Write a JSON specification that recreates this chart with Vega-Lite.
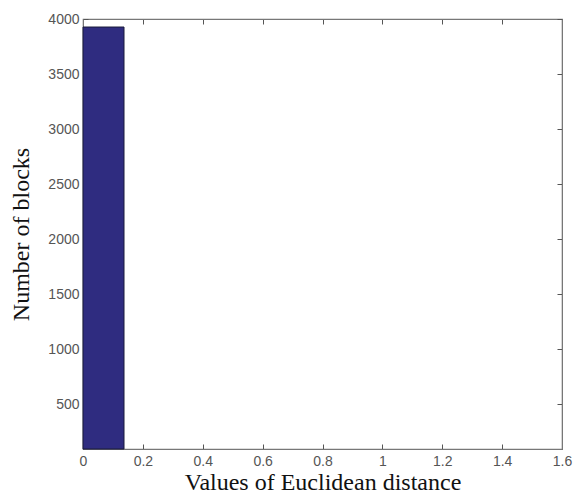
{
  "$schema": "https://vega.github.io/schema/vega-lite/v6.json",
  "width": 479,
  "height": 430,
  "autosize": {"type": "none"},
  "padding": {"left": 83, "top": 19, "right": 14, "bottom": 48},
  "background": "white",
  "config": {
    "view": {"stroke": "#777777", "strokeWidth": 1.2},
    "axis": {
      "grid": false,
      "domainColor": "#777777",
      "tickColor": "#555555",
      "labelColor": "#555555",
      "labelFont": "Liberation Sans",
      "labelFontSize": 14,
      "titleFont": "Liberation Serif",
      "titleFontSize": 24,
      "titleFontWeight": "normal",
      "titleColor": "#111111"
    }
  },
  "data": {"values": [{"bin_start": 0, "bin_end": 0.137, "count": 3927}]},
  "layer": [
    {
      "mark": {"type": "bar", "color": "#2f2c80", "stroke": "#1a1a3a", "strokeWidth": 1},
      "encoding": {
        "x": {
          "field": "bin_start", "type": "quantitative",
          "scale": {"domain": [0, 1.6], "nice": false, "zero": false},
          "axis": {"orient": "bottom", "values": [0, 0.2, 0.4, 0.6, 0.8, 1, 1.2, 1.4, 1.6], "format": "~g", "tickSize": -5, "labelPadding": 10, "title": "Values of Euclidean distance", "titlePadding": 2, "labelFlush": false}
        },
        "x2": {"field": "bin_end"},
        "y": {
          "field": "count", "type": "quantitative",
          "scale": {"domain": [91, 4000], "nice": false, "zero": false},
          "axis": {"orient": "left", "values": [500, 1000, 1500, 2000, 2500, 3000, 3500, 4000], "format": "d", "tickSize": -5, "labelPadding": 9, "title": "Number of blocks", "titlePadding": 14}
        },
        "y2": {"datum": 91}
      }
    },
    {
      "mark": {"type": "rule", "opacity": 0},
      "encoding": {
        "x": {
          "field": "bin_start", "type": "quantitative",
          "axis": {"orient": "top", "values": [0, 0.2, 0.4, 0.6, 0.8, 1, 1.2, 1.4, 1.6], "tickSize": -5, "labels": false, "title": null}
        },
        "y": {
          "field": "count", "type": "quantitative",
          "axis": {"orient": "right", "values": [500, 1000, 1500, 2000, 2500, 3000, 3500, 4000], "tickSize": -5, "labels": false, "title": null}
        }
      }
    }
  ],
  "resolve": {"axis": {"x": "independent", "y": "independent"}}
}
